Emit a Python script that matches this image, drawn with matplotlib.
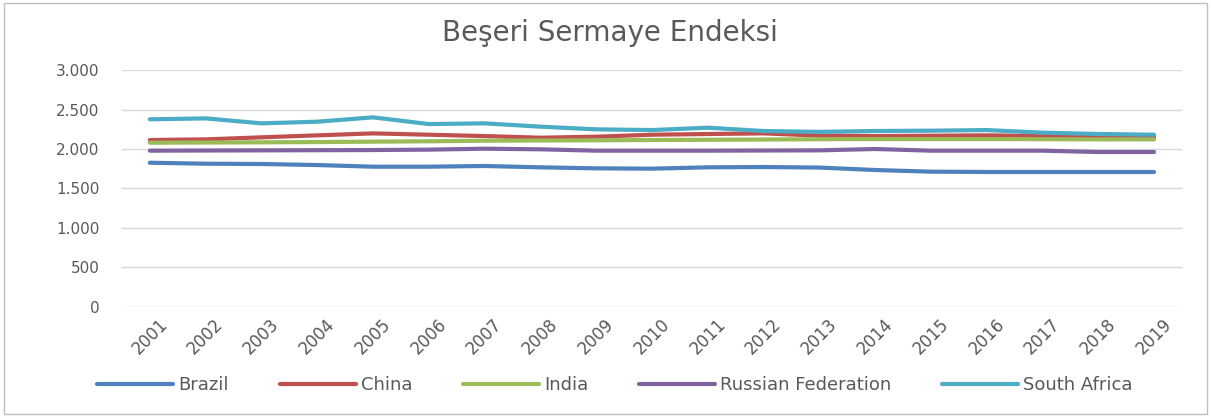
import numpy as np
import matplotlib
matplotlib.use("Agg")
from matplotlib import pyplot as plt
from matplotlib.patches import Rectangle

plt.rcParams['font.family'] = ['DejaVu Sans']

years = [str(y) for y in range(2001, 2020)]
brazil = [1826, 1814, 1810, 1797, 1776, 1776, 1785, 1768, 1755, 1751, 1768, 1772, 1765,
          1734, 1713, 1709, 1709, 1709, 1709]
china = [2114, 2122, 2148, 2173, 2198, 2181, 2164, 2143, 2156, 2181, 2190, 2198, 2170,
         2164, 2168, 2173, 2164, 2156, 2148]
india = [2080, 2082, 2085, 2088, 2093, 2098, 2105, 2108, 2110, 2114, 2117, 2120, 2124,
         2126, 2126, 2126, 2124, 2122, 2122]
russia = [1979, 1981, 1983, 1985, 1987, 1992, 2004, 1996, 1979, 1979, 1979, 1981, 1983,
          2000, 1979, 1979, 1979, 1962, 1962]
south_africa = [2376, 2388, 2325, 2346, 2401, 2316, 2325, 2283, 2249, 2240, 2270, 2228, 2217,
                2228, 2232, 2240, 2207, 2190, 2181]

series = [('Brazil', brazil, '#4F81BD'),
          ('China', china, '#C0504D'),
          ('India', india, '#9BBB59'),
          ('Russian Federation', russia, '#8064A2'),
          ('South Africa', south_africa, '#4BACC6')]

txt = '#595959'

fig = plt.figure(figsize=(12.11, 4.17), dpi=100)
fig.patches.append(Rectangle((0.003, 0.008), 0.994, 0.985, transform=fig.transFigure,
                             fill=False, edgecolor='#BFBFBF', linewidth=1))
ax = fig.add_axes([0.1007, 0.264, 0.8753, 0.568])

x = np.arange(len(years))
for name, vals, col in series:
    ax.plot(x, vals, color=col, linewidth=3, label=name, solid_capstyle='round')

ax.set_xlim(-0.5, len(years) - 0.5)
ax.set_ylim(0, 3000)
ax.set_yticks(range(0, 3001, 500))
ax.set_yticklabels(['0', '500', '1.000', '1.500', '2.000', '2.500', '3.000'])
ax.set_xticks(x)
ax.set_xticklabels(years, rotation=45, ha='center')
ax.grid(axis='y', color='#D9D9D9', linewidth=1)
ax.set_axisbelow(True)
for s in ax.spines.values():
    s.set_visible(False)
ax.tick_params(axis='y', length=0, pad=16, labelsize=11, labelcolor=txt)
ax.tick_params(axis='x', length=0, pad=6, labelsize=12, labelcolor=txt)

fig.text(0.504, 0.92, 'Beşeri Sermaye Endeksi', ha='center', va='center',
         fontsize=20, color=txt)

fig.legend(loc='center', bbox_to_anchor=(0.508, 0.077), ncol=5, frameon=False,
           fontsize=13, labelcolor=txt, handlelength=4.2, handletextpad=0.3,
           columnspacing=2.8)

fig.savefig('out.png', dpi=100)
